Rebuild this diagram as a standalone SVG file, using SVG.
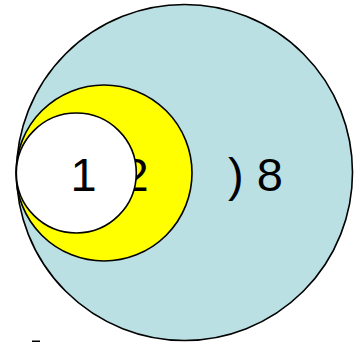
<svg xmlns="http://www.w3.org/2000/svg" width="361" height="342" viewBox="0 0 361 342">
<style>
.c{stroke:#000;stroke-width:1.6}
.t{font-family:"Liberation Sans",Arial,sans-serif;font-size:47px;fill:#000}
</style>
<rect width="361" height="342" fill="#fff"/>
<g id="outer"><circle class="c" cx="184.5" cy="172.5" r="168" fill="#BAE0E4"/><text class="t" x="228" y="191">) 8</text></g>
<g id="middle"><circle class="c" cx="104" cy="173" r="88" fill="#FFFF00"/><text class="t" x="122.5" y="191">2</text></g>
<g id="inner"><circle class="c" cx="76.3" cy="173" r="60" fill="#fff"/><text class="t" x="70.5" y="191">1</text></g>
<rect x="32" y="340.5" width="8" height="1.5" fill="#000"/>
</svg>
